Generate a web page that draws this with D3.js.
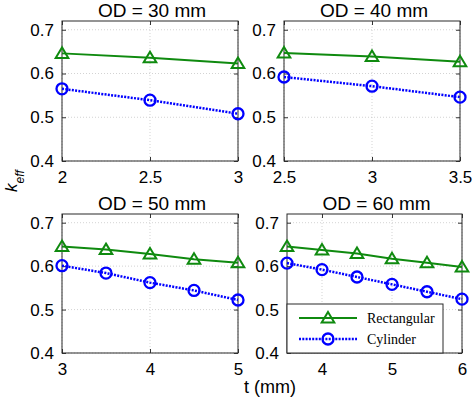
<!DOCTYPE html>
<html>
<head>
<meta charset="utf-8">
<script src="https://cdn.jsdelivr.net/npm/d3@7"></script>
<style>
html,body{margin:0;padding:0;background:#fff;}
svg{display:block;}
text{font-family:"Liberation Sans",Arial,sans-serif;fill:#000;}
</style>
</head>
<body>
<svg id="chart" width="474" height="400"></svg>
<script>
// ---- data ----
const panelTitles = ["OD = 30 mm", "OD = 40 mm", "OD = 50 mm", "OD = 60 mm"];
const t30 = [2, 2.5, 3];
const rect30 = [0.646, 0.636, 0.623];
const cyl30 = [0.565, 0.539, 0.508];
const t40 = [2.5, 3, 3.5];
const rect40 = [0.647, 0.639, 0.627];
const cyl40 = [0.592, 0.571, 0.546];
const t50 = [3, 3.5, 4, 4.5, 5];
const rect50 = [0.645, 0.638, 0.628, 0.616, 0.608];
const cyl50 = [0.601, 0.584, 0.562, 0.544, 0.522];
const t60 = [3.5, 4, 4.5, 5, 5.5, 6];
const rect60 = [0.645, 0.637, 0.629, 0.617, 0.608, 0.598];
const cyl60 = [0.607, 0.592, 0.575, 0.558, 0.541, 0.524];
const xDomains = [[2, 3], [2.5, 3.5], [3, 5], [3.5, 6]];
const xTicks = [[2, 2.5, 3], [2.5, 3, 3.5], [3, 4, 5], [4, 5, 6]];
const yTicks = [0.4, 0.5, 0.6, 0.7];
const yDomain = [0.4, 0.72];
const seriesNames = ["Rectangular", "Cylinder"];

const tData = [t30, t40, t50, t60];
const rectData = [rect30, rect40, rect50, rect60];
const cylData = [cyl30, cyl40, cyl50, cyl60];

// ---- layout ----
const boxes = [
  {l: 62, r: 238, t: 21, b: 161},
  {l: 284, r: 460, t: 21, b: 161},
  {l: 62, r: 238, t: 214, b: 353},
  {l: 287, r: 462, t: 214, b: 353}
];
const GREEN = "#0f8a0f", BLUE = "#0000ff";
const svg = d3.select("#chart");
const fmt = d => String(d);

function triangle(g, x, y) {
  const s = 6;
  g.append("path")
    .attr("d", `M${x},${y - s}L${x + s * 1.05},${y + s * 0.75}L${x - s * 1.05},${y + s * 0.75}Z`)
    .attr("fill", "none").attr("stroke", GREEN).attr("stroke-width", 2);
}
function circle(g, x, y) {
  g.append("circle").attr("cx", x).attr("cy", y).attr("r", 5.5)
    .attr("fill", "none").attr("stroke", BLUE).attr("stroke-width", 2.3);
}

boxes.forEach((bx, i) => {
  const x = d3.scaleLinear().domain(xDomains[i]).range([bx.l, bx.r]);
  const y = d3.scaleLinear().domain(yDomain).range([bx.b, bx.t]);
  const g = svg.append("g");

  // grid
  g.selectAll(".gx").data(xTicks[i]).join("line")
    .attr("x1", d => x(d)).attr("x2", d => x(d)).attr("y1", bx.t).attr("y2", bx.b)
    .attr("stroke", "#c8c8c8").attr("stroke-width", 0.8).attr("stroke-dasharray", "1,2");
  g.selectAll(".gy").data(yTicks).join("line")
    .attr("x1", bx.l).attr("x2", bx.r).attr("y1", d => y(d)).attr("y2", d => y(d))
    .attr("stroke", "#c8c8c8").attr("stroke-width", 0.8).attr("stroke-dasharray", "1,2");

  // axes via d3 axis (ticks inward)
  const axB = d3.axisBottom(x).tickValues(xTicks[i]).tickFormat(fmt).tickSizeInner(-4).tickSizeOuter(0).tickPadding(9);
  const axL = d3.axisLeft(y).tickValues(yTicks).tickFormat(d3.format(".1f")).tickSizeInner(-4).tickSizeOuter(0).tickPadding(8);
  const axT = d3.axisTop(x).tickValues(xTicks[i]).tickFormat("").tickSizeInner(-4).tickSizeOuter(0);
  const axR = d3.axisRight(y).tickValues(yTicks).tickFormat("").tickSizeInner(-4).tickSizeOuter(0);
  const gb = g.append("g").attr("transform", `translate(0,${bx.b})`).call(axB);
  const gl = g.append("g").attr("transform", `translate(${bx.l},0)`).call(axL);
  const gt = g.append("g").attr("transform", `translate(0,${bx.t})`).call(axT);
  const gr = g.append("g").attr("transform", `translate(${bx.r},0)`).call(axR);
  [gb, gl, gt, gr].forEach(a => {
    a.select(".domain").remove();
    a.selectAll(".tick line").attr("stroke", "#333");
    a.selectAll("text").attr("font-size", 17).attr("font-family", "Liberation Sans, Arial, sans-serif").attr("fill", "#000");
  });
  gb.selectAll("text").attr("dy", "0.75em");

  // box
  g.append("rect").attr("x", bx.l).attr("y", bx.t).attr("width", bx.r - bx.l).attr("height", bx.b - bx.t)
    .attr("fill", "none").attr("stroke", "#2a2a2a").attr("stroke-width", 1);

  // title
  g.append("text").attr("x", (bx.l + bx.r) / 2 + 2).attr("y", bx.t - 4)
    .attr("text-anchor", "middle").attr("font-size", 19).text(panelTitles[i]);

  // series
  const pts = tData[i];
  const rect = pts.map((t, k) => [t, rectData[i][k]]);
  const cyl = pts.map((t, k) => [t, cylData[i][k]]);
  const line = d3.line().x(d => x(d[0])).y(d => y(d[1]));
  g.append("path").attr("d", line(rect)).attr("fill", "none").attr("stroke", GREEN).attr("stroke-width", 2);
  g.append("path").attr("d", line(cyl)).attr("fill", "none").attr("stroke", BLUE)
    .attr("stroke-width", 2.5).attr("stroke-dasharray", "2,1.3");
  rect.forEach(d => triangle(g, x(d[0]), y(d[1])));
  cyl.forEach(d => circle(g, x(d[0]), y(d[1])));

  // legend in last panel
  if (i === 3) {
    const lg = svg.append("g");
    lg.append("rect").attr("x", bx.l).attr("y", 304).attr("width", 443 - bx.l).attr("height", bx.b - 304)
      .attr("fill", "#fff").attr("stroke", "#2a2a2a").attr("stroke-width", 1);
    const rows = [318, 339];
    const lx1 = 299, lx2 = 357, mx = 328;
    lg.append("line").attr("x1", lx1).attr("x2", lx2).attr("y1", rows[0]).attr("y2", rows[0])
      .attr("stroke", GREEN).attr("stroke-width", 2);
    triangle(lg, mx, rows[0]);
    lg.append("line").attr("x1", lx1).attr("x2", lx2).attr("y1", rows[1]).attr("y2", rows[1])
      .attr("stroke", BLUE).attr("stroke-width", 2.5).attr("stroke-dasharray", "2,1.3");
    circle(lg, mx, rows[1]);
    seriesNames.forEach((n, k) => {
      lg.append("text").attr("x", 367).attr("y", rows[k] + 5)
        .attr("font-family", "Liberation Serif, Times New Roman, serif").attr("font-size", 14)
        .style("font-family", "'Liberation Serif','Times New Roman',serif").text(n);
    });
  }
});

// axis labels
const yl = svg.append("text").attr("transform", "translate(17,181) rotate(-90)")
  .attr("text-anchor", "middle").attr("font-size", 17).attr("font-style", "italic");
yl.append("tspan").text("k");
yl.append("tspan").attr("font-size", 12).attr("baseline-shift", "sub").text("eff");

svg.append("text").attr("x", 270).attr("y", 393).attr("text-anchor", "middle")
  .attr("font-size", 18).text("t (mm)");
</script>
</body>
</html>
